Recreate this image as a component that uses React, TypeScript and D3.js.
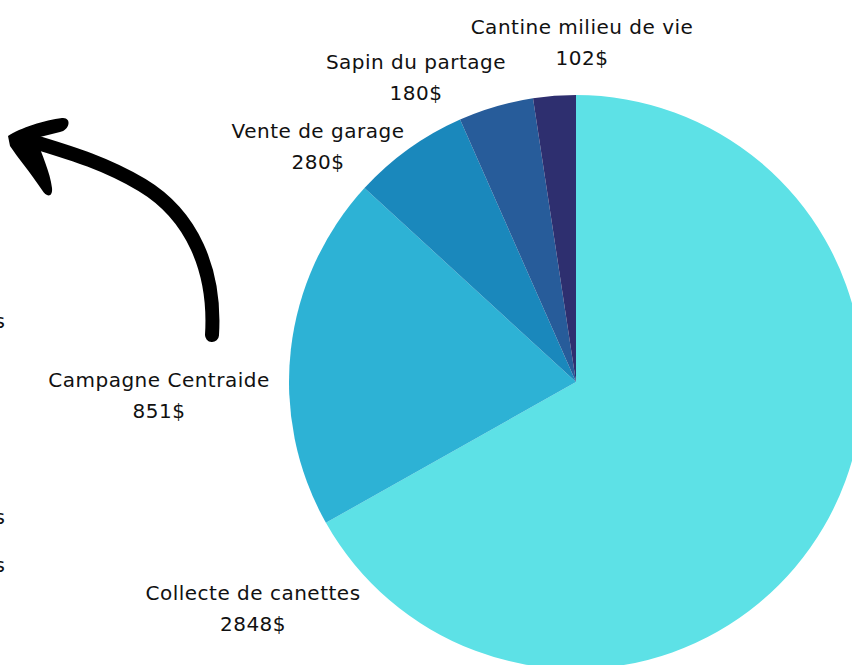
import React from "react";
import * as d3 from "d3";

const categories = ["Collecte de canettes", "Campagne Centraide", "Vente de garage", "Sapin du partage", "Cantine milieu de vie"];
const values = [2848, 851, 280, 180, 102];
const valueLabels = ["2848$", "851$", "280$", "180$", "102$"];
const colors = ["#5DE1E6", "#2DB2D5", "#1A88BC", "#275C9A", "#2E2F6F"];
// label anchor positions (center x, baseline y of first line)
const labelPos: [number, number][] = [[253, 600], [159, 387], [318, 138], [416, 69], [582, 34]];
const cutTexts: [number, string][] = [[328, "s"], [524, "s"], [572, "s"]];

export default function App() {
  const W = 852, H = 665;
  const cx = 576, cy = 382, r = 287;
  const pie = d3.pie<number>().sort(null).value(d => d)(values);
  const arc = d3.arc<d3.PieArcDatum<number>>().innerRadius(0).outerRadius(r);
  const font = "'DejaVu Sans', sans-serif";
  return (
    <svg width={W} height={H} style={{ position: "absolute", left: 0, top: 0, background: "#fff" }}>
      <rect width={W} height={H} fill="#fff" />
      <g transform={`translate(${cx},${cy})`}>
        {pie.map((p, i) => (
          <path key={i} d={arc(p) || ""} fill={colors[i]} />
        ))}
      </g>
      {categories.map((c, i) => (
        <g key={c} fontFamily={font} fontSize={20} letterSpacing={0.5} fill="#111" textAnchor="middle">
          <text x={labelPos[i][0]} y={labelPos[i][1]}>{c}</text>
          <text x={labelPos[i][0]} y={labelPos[i][1] + 31}>{valueLabels[i]}</text>
        </g>
      ))}
      {cutTexts.map(([y, t], i) => (
        <text key={i} x={5} y={y} textAnchor="end" fontFamily={font} fontSize={20} fill="#111">{t}</text>
      ))}
      {/* hand-drawn arrow */}
      <path d="M212,335 C216,270 192,215 142,185 C100,160 60,150 22,138" fill="none" stroke="#000" strokeWidth={14} strokeLinecap="round" />
      <path d="M8,136 C20,128 45,120 62,118 C72,117 70,130 60,132 L36,138 C42,155 50,172 52,188 C53,198 46,197 42,190 C30,172 18,158 10,146 Z" fill="#000" />
    </svg>
  );
}
